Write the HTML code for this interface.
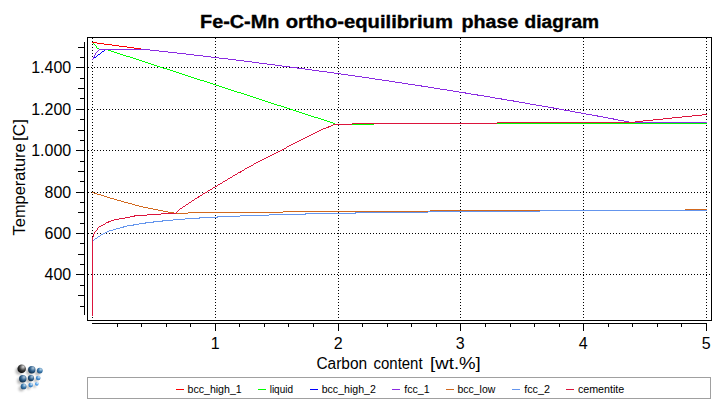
<!DOCTYPE html>
<html><head><meta charset="utf-8"><title>Fe-C-Mn ortho-equilibrium phase diagram</title>
<style>html,body{margin:0;padding:0;background:#fff;overflow:hidden}svg{display:block}text{font-family:"Liberation Sans",sans-serif;fill:#000}</style>
</head><body>
<svg width="721" height="409" viewBox="0 0 721 409">
<defs>
<radialGradient id="gk" cx="0.62" cy="0.34" r="0.72" fx="0.68" fy="0.27"><stop offset="0.05" stop-color="#cfcfcf"/><stop offset="0.55" stop-color="#3c3c3c"/><stop offset="1" stop-color="#000000"/></radialGradient>
<radialGradient id="gd" cx="0.62" cy="0.34" r="0.72" fx="0.68" fy="0.27"><stop offset="0.05" stop-color="#a6c0d6"/><stop offset="0.55" stop-color="#2c5c88"/><stop offset="1" stop-color="#0b2944"/></radialGradient>
<radialGradient id="gm" cx="0.62" cy="0.34" r="0.72" fx="0.68" fy="0.27"><stop offset="0.05" stop-color="#b5d3ea"/><stop offset="0.55" stop-color="#3a78ac"/><stop offset="1" stop-color="#184a78"/></radialGradient>
<radialGradient id="gl" cx="0.62" cy="0.34" r="0.72" fx="0.68" fy="0.27"><stop offset="0.05" stop-color="#cfe6f8"/><stop offset="0.55" stop-color="#4a90d0"/><stop offset="1" stop-color="#2a6cae"/></radialGradient>
<radialGradient id="gx" cx="0.62" cy="0.34" r="0.72" fx="0.68" fy="0.27"><stop offset="0.05" stop-color="#dff0ff"/><stop offset="0.55" stop-color="#5aa8f0"/><stop offset="1" stop-color="#3a86d2"/></radialGradient>
<filter id="sh" x="-50%" y="-50%" width="200%" height="200%"><feGaussianBlur stdDeviation="1.1"/></filter>
</defs>
<rect x="0" y="0" width="721" height="409" fill="#fff"/>
<text x="200.1" y="28" font-size="18" font-weight="bold" stroke="#000" stroke-width="0.35" textLength="79.2" lengthAdjust="spacingAndGlyphs">Fe-C-Mn</text>
<text x="285.7" y="28" font-size="18" font-weight="bold" stroke="#000" stroke-width="0.35" textLength="167.2" lengthAdjust="spacingAndGlyphs">ortho-equilibrium</text>
<text x="461.6" y="28" font-size="18" font-weight="bold" stroke="#000" stroke-width="0.35" textLength="56.8" lengthAdjust="spacingAndGlyphs">phase</text>
<text x="524.6" y="28" font-size="18" font-weight="bold" stroke="#000" stroke-width="0.35" textLength="74.5" lengthAdjust="spacingAndGlyphs">diagram</text>
<g shape-rendering="crispEdges" stroke="#000" stroke-width="1" fill="none">
<g stroke-dasharray="1 2">
<line x1="88" y1="274.5" x2="711" y2="274.5"/>
<line x1="88" y1="233.5" x2="711" y2="233.5"/>
<line x1="88" y1="192.5" x2="711" y2="192.5"/>
<line x1="88" y1="150.5" x2="711" y2="150.5"/>
<line x1="88" y1="109.5" x2="711" y2="109.5"/>
<line x1="88" y1="67.5" x2="711" y2="67.5"/>
<line x1="92.5" y1="38" x2="92.5" y2="320"/>
<line x1="215.5" y1="38" x2="215.5" y2="320"/>
<line x1="338.5" y1="38" x2="338.5" y2="320"/>
<line x1="460.5" y1="38" x2="460.5" y2="320"/>
<line x1="583.5" y1="38" x2="583.5" y2="320"/>
<line x1="706.5" y1="38" x2="706.5" y2="320"/>
</g>
<rect x="87.5" y="37.5" width="624" height="283"/>
<line x1="84.5" y1="42" x2="84.5" y2="315"/>
<line x1="80" y1="306.5" x2="84" y2="306.5"/>
<line x1="78" y1="295.5" x2="84" y2="295.5"/>
<line x1="80" y1="285.5" x2="84" y2="285.5"/>
<line x1="76" y1="274.5" x2="84" y2="274.5"/>
<line x1="80" y1="264.5" x2="84" y2="264.5"/>
<line x1="78" y1="254.5" x2="84" y2="254.5"/>
<line x1="80" y1="243.5" x2="84" y2="243.5"/>
<line x1="76" y1="233.5" x2="84" y2="233.5"/>
<line x1="80" y1="223.5" x2="84" y2="223.5"/>
<line x1="78" y1="212.5" x2="84" y2="212.5"/>
<line x1="80" y1="202.5" x2="84" y2="202.5"/>
<line x1="76" y1="192.5" x2="84" y2="192.5"/>
<line x1="80" y1="181.5" x2="84" y2="181.5"/>
<line x1="78" y1="171.5" x2="84" y2="171.5"/>
<line x1="80" y1="161.5" x2="84" y2="161.5"/>
<line x1="76" y1="150.5" x2="84" y2="150.5"/>
<line x1="80" y1="140.5" x2="84" y2="140.5"/>
<line x1="78" y1="130.5" x2="84" y2="130.5"/>
<line x1="80" y1="119.5" x2="84" y2="119.5"/>
<line x1="76" y1="109.5" x2="84" y2="109.5"/>
<line x1="80" y1="98.5" x2="84" y2="98.5"/>
<line x1="78" y1="88.5" x2="84" y2="88.5"/>
<line x1="80" y1="78.5" x2="84" y2="78.5"/>
<line x1="76" y1="67.5" x2="84" y2="67.5"/>
<line x1="80" y1="57.5" x2="84" y2="57.5"/>
<line x1="78" y1="47.5" x2="84" y2="47.5"/>
<line x1="92" y1="323.5" x2="707" y2="323.5"/>
<line x1="117.5" y1="323" x2="117.5" y2="327"/>
<line x1="141.5" y1="323" x2="141.5" y2="327"/>
<line x1="166.5" y1="323" x2="166.5" y2="327"/>
<line x1="190.5" y1="323" x2="190.5" y2="327"/>
<line x1="215.5" y1="323" x2="215.5" y2="331"/>
<line x1="239.5" y1="323" x2="239.5" y2="327"/>
<line x1="264.5" y1="323" x2="264.5" y2="327"/>
<line x1="288.5" y1="323" x2="288.5" y2="327"/>
<line x1="313.5" y1="323" x2="313.5" y2="327"/>
<line x1="338.5" y1="323" x2="338.5" y2="331"/>
<line x1="362.5" y1="323" x2="362.5" y2="327"/>
<line x1="387.5" y1="323" x2="387.5" y2="327"/>
<line x1="411.5" y1="323" x2="411.5" y2="327"/>
<line x1="436.5" y1="323" x2="436.5" y2="327"/>
<line x1="460.5" y1="323" x2="460.5" y2="331"/>
<line x1="485.5" y1="323" x2="485.5" y2="327"/>
<line x1="510.5" y1="323" x2="510.5" y2="327"/>
<line x1="534.5" y1="323" x2="534.5" y2="327"/>
<line x1="559.5" y1="323" x2="559.5" y2="327"/>
<line x1="583.5" y1="323" x2="583.5" y2="331"/>
<line x1="608.5" y1="323" x2="608.5" y2="327"/>
<line x1="632.5" y1="323" x2="632.5" y2="327"/>
<line x1="657.5" y1="323" x2="657.5" y2="327"/>
<line x1="681.5" y1="323" x2="681.5" y2="327"/>
<line x1="706.5" y1="323" x2="706.5" y2="331"/>
</g>
<text x="44.6" y="280.0" font-size="16" textLength="26.6" lengthAdjust="spacingAndGlyphs">400</text>
<text x="44.6" y="239.0" font-size="16" textLength="26.6" lengthAdjust="spacingAndGlyphs">600</text>
<text x="44.6" y="198.0" font-size="16" textLength="26.6" lengthAdjust="spacingAndGlyphs">800</text>
<text x="31.2" y="156.0" font-size="16" textLength="40.0" lengthAdjust="spacingAndGlyphs">1.000</text>
<text x="31.2" y="115.0" font-size="16" textLength="40.0" lengthAdjust="spacingAndGlyphs">1.200</text>
<text x="31.2" y="73.0" font-size="16" textLength="40.0" lengthAdjust="spacingAndGlyphs">1.400</text>
<text x="215.2" y="349.4" font-size="16" text-anchor="middle">1</text>
<text x="338.2" y="349.4" font-size="16" text-anchor="middle">2</text>
<text x="460.2" y="349.4" font-size="16" text-anchor="middle">3</text>
<text x="583.2" y="349.4" font-size="16" text-anchor="middle">4</text>
<text x="706.2" y="349.4" font-size="16" text-anchor="middle">5</text>
<text x="316.4" y="369.0" font-size="16" textLength="50.8" lengthAdjust="spacingAndGlyphs">Carbon</text>
<text x="373.5" y="369.0" font-size="16" textLength="49.1" lengthAdjust="spacingAndGlyphs">content</text>
<text x="430.1" y="369.0" font-size="16" textLength="50.7" lengthAdjust="spacingAndGlyphs">[wt.%]</text>
<text transform="translate(24.7,235.4) rotate(-90)" x="0" y="0" font-size="16" textLength="92.0" lengthAdjust="spacingAndGlyphs">Temperature</text>
<text transform="translate(24.7,140.9) rotate(-90)" x="0" y="0" font-size="16" textLength="21.9" lengthAdjust="spacingAndGlyphs">[C]</text>
<g shape-rendering="crispEdges" stroke-width="1" fill="none" stroke-linejoin="round">
<path d="M92 42h1v1h-1zM93 43h1v1h-1zM94 44h1v1h-1zM95 45h1v1h-1zM96 46h1v1h-1zM96 47h1v1h-1zM97 48h2v1h-2zM99 49h9v1h-9zM108 50h3v1h-3zM111 51h3v1h-3zM114 52h3v1h-3zM117 53h3v1h-3zM120 54h3v1h-3zM123 55h3v1h-3zM126 56h4v1h-4zM130 57h3v1h-3zM133 58h3v1h-3zM136 59h3v1h-3zM139 60h3v1h-3zM142 61h3v1h-3zM145 62h3v1h-3zM148 63h3v1h-3zM151 64h3v1h-3zM154 65h3v1h-3zM157 66h3v1h-3zM160 67h3v1h-3zM163 68h4v1h-4zM167 69h3v1h-3zM170 70h3v1h-3zM173 71h3v1h-3zM176 72h3v1h-3zM179 73h3v1h-3zM182 74h3v1h-3zM185 75h3v1h-3zM188 76h3v1h-3zM191 77h3v1h-3zM194 78h3v1h-3zM197 79h3v1h-3zM200 80h4v1h-4zM204 81h3v1h-3zM207 82h3v1h-3zM210 83h3v1h-3zM213 84h3v1h-3zM216 85h3v1h-3zM219 86h3v1h-3zM222 87h3v1h-3zM225 88h3v1h-3zM228 89h3v1h-3zM231 90h3v1h-3zM234 91h3v1h-3zM237 92h4v1h-4zM241 93h3v1h-3zM244 94h3v1h-3zM247 95h3v1h-3zM250 96h3v1h-3zM253 97h3v1h-3zM256 98h3v1h-3zM259 99h3v1h-3zM262 100h3v1h-3zM265 101h3v1h-3zM268 102h3v1h-3zM271 103h3v1h-3zM274 104h3v1h-3zM277 105h4v1h-4zM281 106h3v1h-3zM284 107h3v1h-3zM287 108h3v1h-3zM290 109h3v1h-3zM293 110h3v1h-3zM296 111h3v1h-3zM299 112h3v1h-3zM302 113h3v1h-3zM305 114h3v1h-3zM308 115h3v1h-3zM311 116h3v1h-3zM314 117h4v1h-4zM318 118h3v1h-3zM321 119h3v1h-3zM324 120h3v1h-3zM327 121h3v1h-3zM330 122h3v1h-3zM333 123h2v1h-2z" fill="#00ff00" stroke="none"/>
<path d="M104 50h1v1h-1zM102 51h2v1h-2zM101 52h1v1h-1zM100 53h1v1h-1zM98 54h2v1h-2zM97 55h1v1h-1zM96 56h1v1h-1zM94 57h2v1h-2zM93 58h1v1h-1zM92 59h1v1h-1z" fill="#0000ff" stroke="none"/>
<path d="M92 42h5v1h-5zM97 43h7v1h-7zM104 44h8v1h-8zM112 45h7v1h-7zM119 46h8v1h-8zM127 47h7v1h-7zM134 48h7v1h-7z" fill="#ff0000" stroke="none"/>
<line x1="352" y1="124.5" x2="374" y2="124.5" stroke="#00ff00"/>
<line x1="497" y1="123.5" x2="707" y2="123.5" stroke="#00ff00"/>
<path d="M92 192h2v1h-2zM94 193h3v1h-3zM97 194h4v1h-4zM101 195h3v1h-3zM104 196h3v1h-3zM107 197h3v1h-3zM110 198h4v1h-4zM114 199h3v1h-3zM117 200h4v1h-4zM121 201h3v1h-3zM124 202h4v1h-4zM128 203h4v1h-4zM132 204h3v1h-3zM135 205h4v1h-4zM139 206h4v1h-4zM143 207h5v1h-5zM148 208h5v1h-5zM153 209h5v1h-5zM158 210h5v1h-5zM163 211h5v1h-5zM168 212h6v1h-6zM174 213h1v1h-1z" fill="#d2691e" stroke="none"/>
<path d="M539 210h168v1h-168zM428 211h112v1h-112zM355 212h73v1h-73zM305 213h51v1h-51zM269 214h37v1h-37zM240 215h29v1h-29zM217 216h23v1h-23zM199 217h19v1h-19zM185 218h15v1h-15zM173 219h12v1h-12zM162 220h11v1h-11zM153 221h10v1h-10zM145 222h9v1h-9zM139 223h7v1h-7zM133 224h6v1h-6zM127 225h7v1h-7zM123 226h4v1h-4zM120 227h4v1h-4zM116 228h4v1h-4zM113 229h3v1h-3zM109 230h4v1h-4zM107 231h2v1h-2zM105 232h2v1h-2zM103 233h2v1h-2zM101 234h2v1h-2zM100 235h1v1h-1zM98 236h2v1h-2zM97 237h1v1h-1zM95 238h2v1h-2zM94 239h1v1h-1zM92 240h2v1h-2z" fill="#6495ed" stroke="none"/>
<line x1="175" y1="213.5" x2="188" y2="213.5" stroke="#d2691e"/>
<line x1="188" y1="212.5" x2="283" y2="212.5" stroke="#d2691e"/>
<line x1="283" y1="211.5" x2="428" y2="211.5" stroke="#d2691e"/>
<line x1="430" y1="210.5" x2="540" y2="210.5" stroke="#d2691e"/>
<line x1="685" y1="209.5" x2="707" y2="209.5" stroke="#d2691e"/>
<path d="M333 124h2v1h-2zM331 125h2v1h-2zM328 126h3v1h-3zM326 127h3v1h-3zM323 128h3v1h-3zM321 129h2v1h-2zM319 130h2v1h-2zM317 131h2v1h-2zM315 132h2v1h-2zM313 133h2v1h-2zM311 134h2v1h-2zM309 135h2v1h-2zM307 136h2v1h-2zM305 137h2v1h-2zM303 138h2v1h-2zM301 139h2v1h-2zM299 140h2v1h-2zM297 141h2v1h-2zM295 142h2v1h-2zM293 143h2v1h-2zM291 144h2v1h-2zM289 145h2v1h-2zM287 146h2v1h-2zM286 147h1v1h-1zM284 148h2v1h-2zM282 149h2v1h-2zM280 150h2v1h-2zM278 151h2v1h-2zM276 152h2v1h-2zM274 153h2v1h-2zM272 154h2v1h-2zM270 155h2v1h-2zM268 156h2v1h-2zM266 157h2v1h-2zM264 158h2v1h-2zM262 159h2v1h-2zM260 160h2v1h-2zM258 161h2v1h-2zM256 162h2v1h-2zM254 163h2v1h-2zM253 164h1v1h-1zM251 165h2v1h-2zM249 166h2v1h-2zM247 167h2v1h-2zM245 168h2v1h-2zM244 169h1v1h-1zM242 170h2v1h-2zM240 171h2v1h-2zM238 172h3v1h-3zM237 173h1v1h-1zM235 174h2v1h-2zM233 175h2v1h-2zM232 176h1v1h-1zM230 177h2v1h-2zM228 178h2v1h-2zM227 179h1v1h-1zM225 180h2v1h-2zM223 181h2v1h-2zM222 182h1v1h-1zM220 183h2v1h-2zM218 184h2v1h-2zM217 185h1v1h-1zM215 186h2v1h-2zM213 187h2v1h-2zM212 188h1v1h-1zM210 189h2v1h-2zM208 190h2v1h-2zM207 191h1v1h-1zM205 192h2v1h-2zM203 193h2v1h-2zM202 194h1v1h-1zM200 195h2v1h-2zM198 196h2v1h-2zM197 197h2v1h-2zM195 198h2v1h-2zM194 199h1v1h-1zM192 200h2v1h-2zM191 201h1v1h-1zM189 202h2v1h-2zM188 203h1v1h-1zM186 204h2v1h-2zM185 205h1v1h-1zM183 206h2v1h-2zM182 207h1v1h-1zM180 208h2v1h-2zM179 209h1v1h-1zM178 210h1v1h-1zM177 211h1v1h-1zM176 212h1v1h-1zM161 213h15v1h-15zM147 214h14v1h-14zM134 215h13v1h-13zM130 216h5v1h-5zM125 217h5v1h-5zM119 218h6v1h-6zM114 219h5v1h-5zM111 220h3v1h-3zM108 221h3v1h-3zM106 222h3v1h-3zM105 223h1v1h-1zM103 224h2v1h-2zM101 225h2v1h-2zM99 226h2v1h-2zM98 227h1v1h-1zM97 228h1v1h-1zM97 229h1v1h-1zM96 230h1v1h-1zM95 231h1v1h-1zM94 232h1v1h-1zM94 233h1v1h-1zM93 234h1v1h-1zM93 235h1v1h-1zM93 236h1v1h-1zM92 237h1v1h-1zM92 238h1v1h-1zM92 239h1v1h-1zM92 240h1v1h-1zM92 241h1v1h-1zM92 242h1v1h-1zM92 243h1v1h-1zM92 244h1v1h-1zM92 245h1v1h-1zM92 246h1v1h-1zM92 247h1v1h-1zM92 248h1v1h-1zM92 249h1v1h-1zM92 250h1v1h-1zM92 251h1v1h-1zM92 252h1v1h-1zM92 253h1v1h-1zM92 254h1v1h-1zM92 255h1v1h-1zM92 256h1v1h-1zM92 257h1v1h-1zM92 258h1v1h-1zM92 259h1v1h-1zM92 260h1v1h-1zM92 261h1v1h-1zM92 262h1v1h-1zM92 263h1v1h-1zM92 264h1v1h-1zM92 265h1v1h-1zM92 266h1v1h-1zM92 267h1v1h-1zM92 268h1v1h-1zM92 269h1v1h-1zM92 270h1v1h-1zM92 271h1v1h-1zM92 272h1v1h-1zM92 273h1v1h-1zM92 274h1v1h-1zM92 275h1v1h-1zM92 276h1v1h-1zM92 277h1v1h-1zM92 278h1v1h-1zM92 279h1v1h-1zM92 280h1v1h-1zM92 281h1v1h-1zM92 282h1v1h-1zM92 283h1v1h-1zM92 284h1v1h-1zM92 285h1v1h-1zM92 286h1v1h-1zM92 287h1v1h-1zM92 288h1v1h-1zM92 289h1v1h-1zM92 290h1v1h-1zM92 291h1v1h-1zM92 292h1v1h-1zM92 293h1v1h-1zM92 294h1v1h-1zM92 295h1v1h-1zM92 296h1v1h-1zM92 297h1v1h-1zM92 298h1v1h-1zM92 299h1v1h-1zM92 300h1v1h-1zM92 301h1v1h-1zM92 302h1v1h-1zM92 303h1v1h-1zM92 304h1v1h-1zM92 305h1v1h-1zM92 306h1v1h-1zM92 307h1v1h-1zM92 308h1v1h-1zM92 309h1v1h-1zM92 310h1v1h-1zM92 311h1v1h-1zM92 312h1v1h-1zM92 313h1v1h-1zM92 314h1v1h-1zM92 315h1v1h-1z" fill="#dc143c" stroke="none"/>
<line x1="334" y1="124.5" x2="352" y2="124.5" stroke="#dc143c"/>
<line x1="352" y1="123.5" x2="497" y2="123.5" stroke="#dc143c"/>
<line x1="497" y1="122.5" x2="636" y2="122.5" stroke="#dc143c"/>
<path d="M99 49h51v1h-51zM98 50h1v1h-1zM150 50h9v1h-9zM97 51h1v1h-1zM159 51h9v1h-9zM96 52h1v1h-1zM168 52h9v1h-9zM95 53h1v1h-1zM177 53h9v1h-9zM95 54h1v1h-1zM186 54h8v1h-8zM94 55h1v1h-1zM194 55h9v1h-9zM94 56h1v1h-1zM203 56h8v1h-8zM93 57h1v1h-1zM211 57h8v1h-8zM93 58h1v1h-1zM219 58h9v1h-9zM92 59h1v1h-1zM228 59h8v1h-8zM236 60h8v1h-8zM244 61h8v1h-8zM252 62h7v1h-7zM259 63h8v1h-8zM267 64h8v1h-8zM275 65h7v1h-7zM282 66h8v1h-8zM290 67h8v1h-8zM297 68h8v1h-8zM305 69h7v1h-7zM312 70h7v1h-7zM319 71h8v1h-8zM327 72h7v1h-7zM334 73h7v1h-7zM341 74h7v1h-7zM348 75h7v1h-7zM355 76h7v1h-7zM362 77h7v1h-7zM369 78h6v1h-6zM375 79h7v1h-7zM382 80h7v1h-7zM389 81h6v1h-6zM395 82h7v1h-7zM402 83h6v1h-6zM408 84h7v1h-7zM415 85h7v1h-7zM421 86h7v1h-7zM428 87h6v1h-6zM434 88h6v1h-6zM440 89h7v1h-7zM447 90h6v1h-6zM453 91h6v1h-6zM459 92h7v1h-7zM465 93h6v1h-6zM471 94h7v1h-7zM477 95h7v1h-7zM484 96h6v1h-6zM490 97h5v1h-5zM495 98h7v1h-7zM501 99h6v1h-6zM507 100h7v1h-7zM513 101h6v1h-6zM519 102h6v1h-6zM525 103h5v1h-5zM530 104h6v1h-6zM536 105h6v1h-6zM542 106h6v1h-6zM548 107h6v1h-6zM553 108h6v1h-6zM559 109h5v1h-5zM564 110h6v1h-6zM570 111h5v1h-5zM575 112h6v1h-6zM581 113h5v1h-5zM586 114h6v1h-6zM592 115h6v1h-6zM597 116h6v1h-6zM603 117h5v1h-5zM608 118h6v1h-6zM613 119h5v1h-5zM618 120h6v1h-6zM624 121h5v1h-5z" fill="#8a2be2" stroke="none"/>
<line x1="635" y1="122.5" x2="707" y2="122.5" stroke="#8a2be2"/>
<path d="M702 114h5v1h-5zM692 115h10v1h-10zM682 116h10v1h-10zM672 117h10v1h-10zM663 118h9v1h-9zM653 119h10v1h-10zM643 120h10v1h-10zM635 121h8v1h-8z" fill="#dc143c" stroke="none"/>
</g>
<rect x="87.5" y="377.5" width="623" height="21" fill="#fff" stroke="#a0a0a0" stroke-width="1" shape-rendering="crispEdges"/>
<line x1="176" y1="389.5" x2="184" y2="389.5" stroke="#ff0000" stroke-width="1" shape-rendering="crispEdges"/>
<text x="187.5" y="392.8" font-size="11.6" textLength="54.2" lengthAdjust="spacingAndGlyphs">bcc_high_1</text>
<line x1="258" y1="389.5" x2="266" y2="389.5" stroke="#00ff00" stroke-width="1" shape-rendering="crispEdges"/>
<text x="269.7" y="392.8" font-size="11.6" textLength="23.3" lengthAdjust="spacingAndGlyphs">liquid</text>
<line x1="310" y1="389.5" x2="318" y2="389.5" stroke="#0000ff" stroke-width="1" shape-rendering="crispEdges"/>
<text x="321.7" y="392.8" font-size="11.6" textLength="54.1" lengthAdjust="spacingAndGlyphs">bcc_high_2</text>
<line x1="392" y1="389.5" x2="400" y2="389.5" stroke="#8a2be2" stroke-width="1" shape-rendering="crispEdges"/>
<text x="404.2" y="392.8" font-size="11.6" textLength="25.5" lengthAdjust="spacingAndGlyphs">fcc_1</text>
<line x1="446" y1="389.5" x2="454" y2="389.5" stroke="#d2691e" stroke-width="1" shape-rendering="crispEdges"/>
<text x="457.5" y="392.8" font-size="11.6" textLength="37.8" lengthAdjust="spacingAndGlyphs">bcc_low</text>
<line x1="512" y1="389.5" x2="520" y2="389.5" stroke="#6495ed" stroke-width="1" shape-rendering="crispEdges"/>
<text x="524.2" y="392.8" font-size="11.6" textLength="25.8" lengthAdjust="spacingAndGlyphs">fcc_2</text>
<line x1="566" y1="389.5" x2="574" y2="389.5" stroke="#dc143c" stroke-width="1" shape-rendering="crispEdges"/>
<text x="577.9" y="392.8" font-size="11.6" textLength="46.4" lengthAdjust="spacingAndGlyphs">cementite</text>
<g filter="url(#sh)" opacity="0.4">
<circle cx="19.3" cy="371.0" r="3.83" fill="#555"/>
<circle cx="29.4" cy="372.0" r="3.33" fill="#555"/>
<circle cx="37.4" cy="372.9" r="2.61" fill="#555"/>
<circle cx="20.4" cy="381.0" r="3.33" fill="#555"/>
<circle cx="28.6" cy="380.4" r="2.79" fill="#555"/>
<circle cx="35.8" cy="380.3" r="2.12" fill="#555"/>
<circle cx="21.2" cy="388.7" r="2.61" fill="#555"/>
<circle cx="28.3" cy="387.4" r="2.12" fill="#555"/>
<circle cx="34.4" cy="386.1" r="1.67" fill="#555"/>
</g>
<circle cx="21.7" cy="368.7" r="4.25" fill="url(#gk)"/>
<circle cx="31.8" cy="369.7" r="3.7" fill="url(#gd)"/>
<circle cx="39.8" cy="370.6" r="2.9" fill="url(#gm)"/>
<circle cx="22.8" cy="378.7" r="3.7" fill="url(#gd)"/>
<circle cx="31.0" cy="378.1" r="3.1" fill="url(#gd)"/>
<circle cx="38.2" cy="378.0" r="2.35" fill="url(#gl)"/>
<circle cx="23.6" cy="386.4" r="2.9" fill="url(#gm)"/>
<circle cx="30.7" cy="385.1" r="2.35" fill="url(#gl)"/>
<circle cx="36.8" cy="383.8" r="1.85" fill="url(#gx)"/>
</svg></body></html>
